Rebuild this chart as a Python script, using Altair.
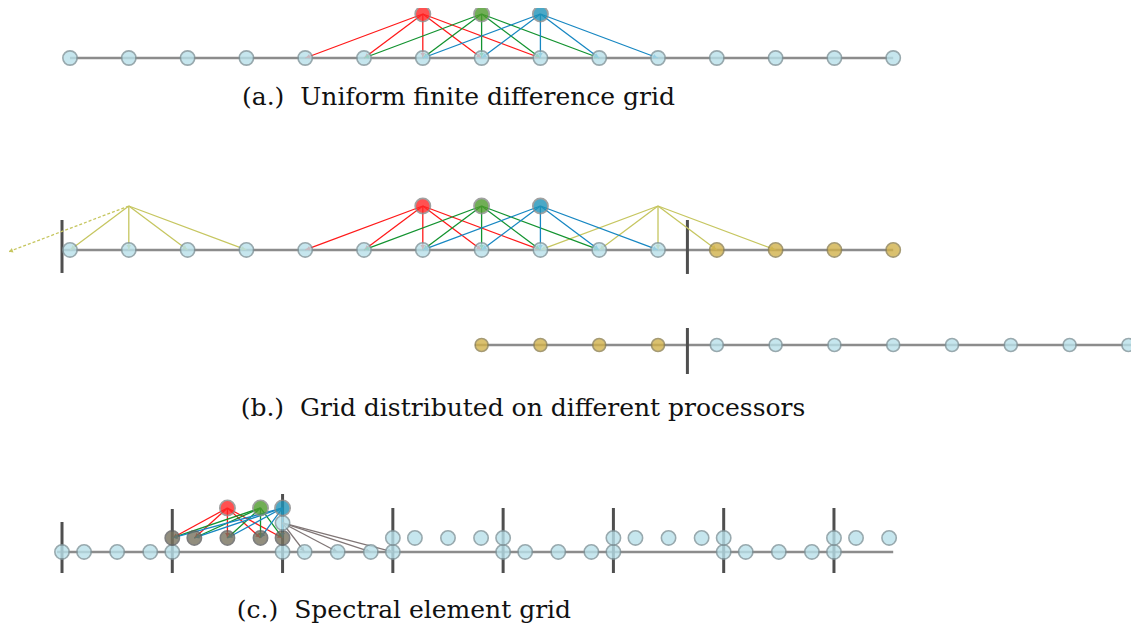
import math
import altair as alt
import pandas as pd

# ---------------- data (diagram units: one grid spacing = 1) ----------------
# vertical levels (downwards)
Y_A_TOP, Y_A = -0.748, 0.0
Y_B_TOP, Y_B = 2.517, 3.265
Y_B2 = 4.881
Y_C_TOP, Y_C_GHOST, Y_C_RAISED, Y_C = 7.653, 7.908, 8.163, 8.401

# panel (a) / (b): uniform grid
uniform_nodes = list(range(15))
stencil_centers = [6, 7, 8]
stencil_node_colors = ["#ff2626", "#4e9a2c", "#1f93b8"]
stencil_edge_colors = ["#ff1a1a", "#139330", "#1787c2"]
stencil_reach = [-2, -1, 0, 1, 2]

# panel (b): processor split
proc1_nodes = list(range(0, 11))
proc2_nodes = list(range(11, 15))
proc_boundary = 10.5
left_boundary = -0.136
ghost_apex_left = 1
ghost_left_targets = [0, 1, 2, 3]
ghost_dashed_end = (-1.054, 3.299)
ghost_apex_right = 10
ghost_right_targets = [8, 9, 10, 11, 12]
row2_gold = [7, 8, 9, 10]
row2_blue = list(range(11, 19))

# panel (c): spectral elements
c_start, elem_len = -0.136, 1.8755
n_elements = 8
gll_frac = [0.0, 0.2, 0.5, 0.8, 1.0]
elems_on_line = [0, 2, 4, 6]
elems_raised = [3, 5]
last_elem, last_elem_nodes = 7, 3
dark_elem = 1
bar_tops = [7.891, 7.67, 7.415, 7.653, 7.653, 7.653, 7.653, 7.653]
bar_bottom_c = 8.759
c_top_frac_idx = [2, 3, 4]
ghost_targets_idx = [1, 2, 3, 4]

titles = ["(a.)\u00a0 Uniform finite difference grid",
          "(b.)\u00a0 Grid distributed on different processors",
          "(c.)\u00a0 Spectral element grid"]
title_x = [6.607, 7.704, 5.68]
title_y = [0.80, 6.09, 9.524]

# ---------------- colours ----------------
LB, LB_S = "#b9e1ea", "#7f949a"
GOLD, GOLD_S = "#d2b24c", "#8f8252"
DARK, DARK_S = "#77725f", "#5f5f5f"
OLIVE = "#c6c660"
GREYEDGE = "#807676"

nodes, edges, dashed, hlines, vbars = [], [], [], [], []

def node(x, y, fill, stroke=LB_S, size=205):
    nodes.append(dict(x=x, y=y, fill=fill, stroke=stroke, size=size))

def edge(x, y, x2, y2, color):
    edges.append(dict(x=x, y=y, x2=x2, y2=y2, color=color))

# ---- panel (a)
hlines.append(dict(x=uniform_nodes[0], x2=uniform_nodes[-1], y=Y_A))
for i in uniform_nodes:
    node(i, Y_A, LB)
for c, nc, ec in zip(stencil_centers, stencil_node_colors, stencil_edge_colors):
    for r in stencil_reach:
        edge(c, Y_A_TOP, c + r, Y_A, ec)
for c, nc in zip(stencil_centers, stencil_node_colors):
    node(c, Y_A_TOP, nc, stroke="#8a8a8a", size=235)

# ---- panel (b)
hlines.append(dict(x=left_boundary, x2=uniform_nodes[-1], y=Y_B))
vbars.append(dict(x=left_boundary, y=2.755, y2=3.656))
vbars.append(dict(x=proc_boundary, y=2.755, y2=3.673))
for t in ghost_left_targets:
    edge(ghost_apex_left, Y_B_TOP, t, Y_B, OLIVE)
dashed.append(dict(x=ghost_apex_left, y=Y_B_TOP, x2=ghost_dashed_end[0], y2=ghost_dashed_end[1], color=OLIVE))
for t in ghost_right_targets:
    edge(ghost_apex_right, Y_B_TOP, t, Y_B, OLIVE)
for c, nc, ec in zip(stencil_centers, stencil_node_colors, stencil_edge_colors):
    for r in stencil_reach:
        edge(c, Y_B_TOP, c + r, Y_B, ec)
for i in proc1_nodes:
    node(i, Y_B, LB)
for i in proc2_nodes:
    node(i, Y_B, GOLD, stroke=GOLD_S)
for c, nc in zip(stencil_centers, stencil_node_colors):
    node(c, Y_B_TOP, nc, stroke="#8a8a8a", size=235)

# row 2
hlines.append(dict(x=6.89, x2=18.3, y=Y_B2))
vbars.append(dict(x=proc_boundary, y=4.592, y2=5.374))
for i in row2_gold:
    node(i, Y_B2, GOLD, stroke=GOLD_S, size=170)
for i in row2_blue:
    node(i, Y_B2, LB, size=170)

# ---- panel (c)
bounds = [c_start + k * elem_len for k in range(n_elements)]
def pos(k, j):
    return c_start + (k + gll_frac[j]) * elem_len

hlines.append(dict(x=-0.22, x2=14.0, y=Y_C))
for k in range(n_elements):
    vbars.append(dict(x=bounds[k], y=bar_tops[k], y2=bar_bottom_c))
for j, nc, ec in zip(c_top_frac_idx, stencil_node_colors, stencil_edge_colors):
    for m in range(len(gll_frac)):
        edge(pos(dark_elem, j), Y_C_TOP, pos(dark_elem, m), Y_C_RAISED, ec)
for m in ghost_targets_idx:
    edge(pos(2, 0), Y_C_GHOST, pos(2, m), Y_C, GREYEDGE)
for k in elems_on_line:
    for j in range(len(gll_frac)):
        node(pos(k, j), Y_C, LB)
for k in elems_raised:
    for j in range(len(gll_frac)):
        node(pos(k, j), Y_C_RAISED, LB)
for j in range(last_elem_nodes):
    node(pos(last_elem, j), Y_C_RAISED, LB)
for j in range(len(gll_frac)):
    node(pos(dark_elem, j), Y_C_RAISED, DARK, stroke=DARK_S)
node(pos(2, 0), Y_C_GHOST, LB)
for j, nc in zip(c_top_frac_idx, stencil_node_colors):
    node(pos(dark_elem, j), Y_C_TOP, nc, stroke="#8a8a8a", size=235)

# arrow heads at edge ends (direction from the edge data)
heads = []
for e in edges + dashed:
    dx, dy = e["x2"] - e["x"], e["y2"] - e["y"]
    n = math.hypot(dx, dy)
    if n == 0:
        continue
    back = 0.05
    heads.append(dict(x=e["x2"] - dx / n * back, y=e["y2"] - dy / n * back,
                      ang=(math.degrees(math.atan2(dx, -dy)) + 360) % 360, color=e["color"]))

# ---------------- chart ----------------
W, H = 1123, 619
xs = alt.Scale(domain=[-1.0544, 18.044], nice=False, zero=False)
ys = alt.Scale(domain=[-0.8503, 9.677], nice=False, zero=False, reverse=True)
X = lambda f="x": alt.X(f"{f}:Q", scale=xs, axis=None)
Y = lambda f="y": alt.Y(f"{f}:Q", scale=ys, axis=None)

hl = alt.Chart(pd.DataFrame(hlines)).mark_rule(color="#8c8c8c", strokeWidth=2.5).encode(
    x=X(), x2="x2:Q", y=Y())
vb = alt.Chart(pd.DataFrame(vbars)).mark_rule(color="#4f4f4f", strokeWidth=3).encode(
    x=X(), y=Y(), y2="y2:Q")
ed = alt.Chart(pd.DataFrame(edges)).mark_rule(strokeWidth=1.3).encode(
    x=X(), y=Y(), x2="x2:Q", y2="y2:Q", color=alt.Color("color:N", scale=None))
da = alt.Chart(pd.DataFrame(dashed)).mark_rule(strokeWidth=1.3, strokeDash=[3, 2]).encode(
    x=X(), y=Y(), x2="x2:Q", y2="y2:Q", color=alt.Color("color:N", scale=None))
hd = alt.Chart(pd.DataFrame(heads)).mark_point(
    shape="triangle-up", filled=True, size=22, opacity=1).encode(
    x=X(), y=Y(), angle=alt.Angle("ang:Q", scale=None),
    color=alt.Color("color:N", scale=None))
nd = alt.Chart(pd.DataFrame(nodes)).mark_circle(strokeWidth=1.6, opacity=0.8).encode(
    x=X(), y=Y(),
    fill=alt.Fill("fill:N", scale=None),
    stroke=alt.Stroke("stroke:N", scale=None),
    size=alt.Size("size:Q", scale=None))
tx = alt.Chart(pd.DataFrame(dict(x=title_x, y=title_y, t=titles))).mark_text(
    font="DejaVu Serif", fontSize=25, color="#111111", baseline="alphabetic", align="center").encode(
    x=X(), y=Y(), text="t:N")

chart = alt.layer(hl, vb, ed, da, hd, nd, tx).properties(
    width=W, height=H, padding=0, autosize=alt.AutoSizeParams(type="none")
).configure_view(stroke=None)

chart.save("out.html", embed_options={"renderer": "svg", "actions": False})
